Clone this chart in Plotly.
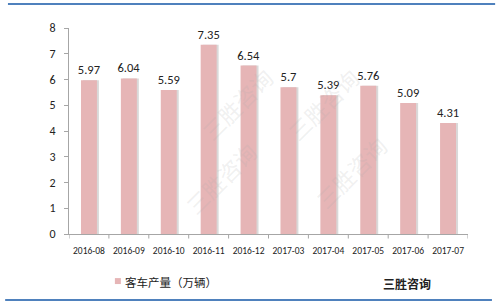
import plotly.graph_objects as go

categories = ["2016-08", "2016-09", "2016-10", "2016-11", "2016-12",
              "2017-03", "2017-04", "2017-05", "2017-06", "2017-07"]
values = [5.97, 6.04, 5.59, 7.35, 6.54, 5.7, 5.39, 5.76, 5.09, 4.31]
labels = ["5.97", "6.04", "5.59", "7.35", "6.54", "5.7", "5.39", "5.76", "5.09", "4.31"]
y_ticks = [0, 1, 2, 3, 4, 5, 6, 7, 8]
series_name = "客车产量（万辆）"

idx = list(range(len(categories)))
font = "Microsoft YaHei, Noto Sans CJK SC, DejaVu Sans, sans-serif"
numfont = "Calibri, Carlito, Liberation Sans, sans-serif"

fig = go.Figure()
# shadow
fig.add_trace(go.Bar(x=idx, y=values, width=0.4, offset=-0.15,
                     marker=dict(color="#d9d9d9", line=dict(width=0)),
                     showlegend=False, hoverinfo="skip"))
fig.add_trace(go.Bar(x=idx, y=values, width=0.4, offset=-0.2,
                     marker=dict(color="#e6b5b6", line=dict(width=0)),
                     text=labels, textposition="outside", constraintext="none",
                     textfont=dict(size=12.5, color="#222", family=numfont),
                     cliponaxis=False, showlegend=False, name=series_name))

fig.update_layout(
    width=500, height=304,
    margin=dict(l=69, r=32, t=28, b=70),
    paper_bgcolor="white", plot_bgcolor="white",
    barmode="overlay", bargap=0.6,
    font=dict(family=font, color="#222"),
    xaxis=dict(range=[-0.5, 9.5], tickvals=idx, ticktext=categories,
               tickfont=dict(size=9.5, color="#222", family=numfont),
               showline=True, linecolor="#a6a6a6", linewidth=1,
               showgrid=False, ticks="", zeroline=False, ticklabelstandoff=8),
    yaxis=dict(range=[0, 8], tickvals=y_ticks,
               tickfont=dict(size=12, color="#222", family=numfont),
               showline=True, linecolor="#a6a6a6", linewidth=1,
               ticks="outside", ticklen=4, tickcolor="#a6a6a6",
               showgrid=False, zeroline=False, ticklabelstandoff=6),
)

# category boundary tick marks on x axis
shapes = []
for i in range(len(categories) + 1):
    shapes.append(dict(type="line", xref="x", yref="paper", x0=i - 0.5, x1=i - 0.5,
                       y0=0, y1=-0.022, line=dict(color="#a6a6a6", width=1)))
# blue frame lines
shapes.append(dict(type="line", xref="paper", yref="paper", x0=-0.153, x1=1.068,
                   y0=1.117, y1=1.117, line=dict(color="#4f81bd", width=2)))
shapes.append(dict(type="line", xref="paper", yref="paper", x0=-0.160, x1=1.06,
                   y0=-0.320, y1=-0.320, line=dict(color="#4f81bd", width=2)))
# legend swatch
shapes.append(dict(type="rect", xref="paper", yref="paper", x0=0.115, x1=0.130,
                   y0=-0.243, y1=-0.214, fillcolor="#e6b5b6", line=dict(width=0)))
fig.update_layout(shapes=shapes)

annotations = [
    dict(text=series_name, xref="paper", yref="paper", x=0.136, y=-0.231,
         xanchor="left", yanchor="middle", showarrow=False,
         font=dict(size=11.5, color="#222", family=font)),
    dict(text="<b>三胜咨询</b>", xref="paper", yref="paper", x=0.847, y=-0.238,
         xanchor="center", yanchor="middle", showarrow=False,
         font=dict(size=12, color="#222", family=font)),
]
# faint watermarks
for (wx, wy) in [(0.42, 0.85), (0.75, 0.85), (0.82, 0.08), (0.38, 0.05)]:
    annotations.append(dict(text="三胜咨询", xref="paper", yref="paper", x=wx, y=wy,
                            showarrow=False, textangle=-45,
                            font=dict(size=22, color="rgba(170,170,170,0.18)", family=font)))
fig.update_layout(annotations=annotations)

fig.write_html("out.html")
